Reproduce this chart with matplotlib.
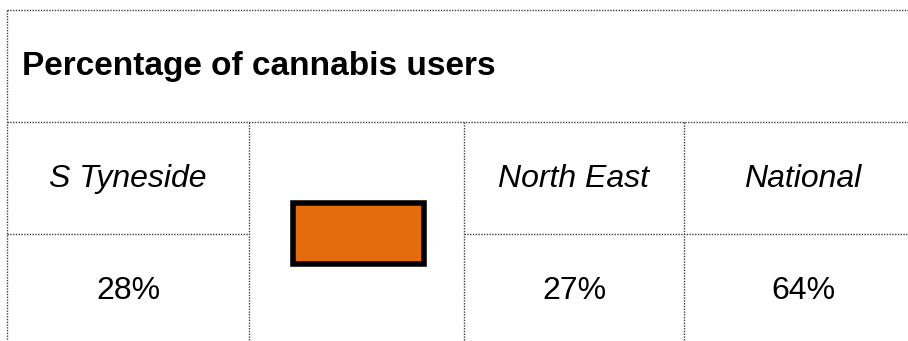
import matplotlib.pyplot as plt
from matplotlib.patches import Rectangle

titre = "Percentage of cannabis users"
regions = ["S Tyneside", "", "North East", "National"]
valeurs = ["28%", "", "27%", "64%"]
couleur_cle = "#E46C0A"

plt.rcParams['font.family'] = ['Liberation Sans', 'DejaVu Sans']

fig = plt.figure(figsize=(9.08, 3.41), dpi=100)
ax = fig.add_axes([0, 0, 1, 1])
ax.set_xlim(0, 908)
ax.set_ylim(341, 0)
ax.axis('off')

# grille du tableau (pointillés)
style = dict(color='#404040', lw=1.0, linestyle=(0, (1, 1)))
x_cols = [7, 249, 464, 684, 922]
ax.plot([7, 908], [10, 10], **style)
ax.plot([7, 908], [122, 122], **style)
ax.plot([7, 249], [234, 234], **style)
ax.plot([464, 908], [234, 234], **style)
for x in x_cols[:4]:
    y0 = 10 if x == 7 else 122
    ax.plot([x, x], [y0, 341], **style)

ax.text(22, 67, titre, fontsize=24, fontweight='bold', ha='left', va='center')

for i, (r, v) in enumerate(zip(regions, valeurs)):
    xc = (x_cols[i] + x_cols[i + 1]) / 2
    if r:
        ax.text(xc, 179, r, fontsize=23, style='italic', ha='center', va='center')
    if v:
        ax.text(xc, 291, v, fontsize=23, ha='center', va='center')

# clé de couleur dans la cellule fusionnée
ax.add_patch(Rectangle((293, 203), 131, 61, facecolor=couleur_cle,
                       edgecolor='black', lw=4, joinstyle='miter'))

fig.savefig("out.png", dpi=100)
plt.close()
